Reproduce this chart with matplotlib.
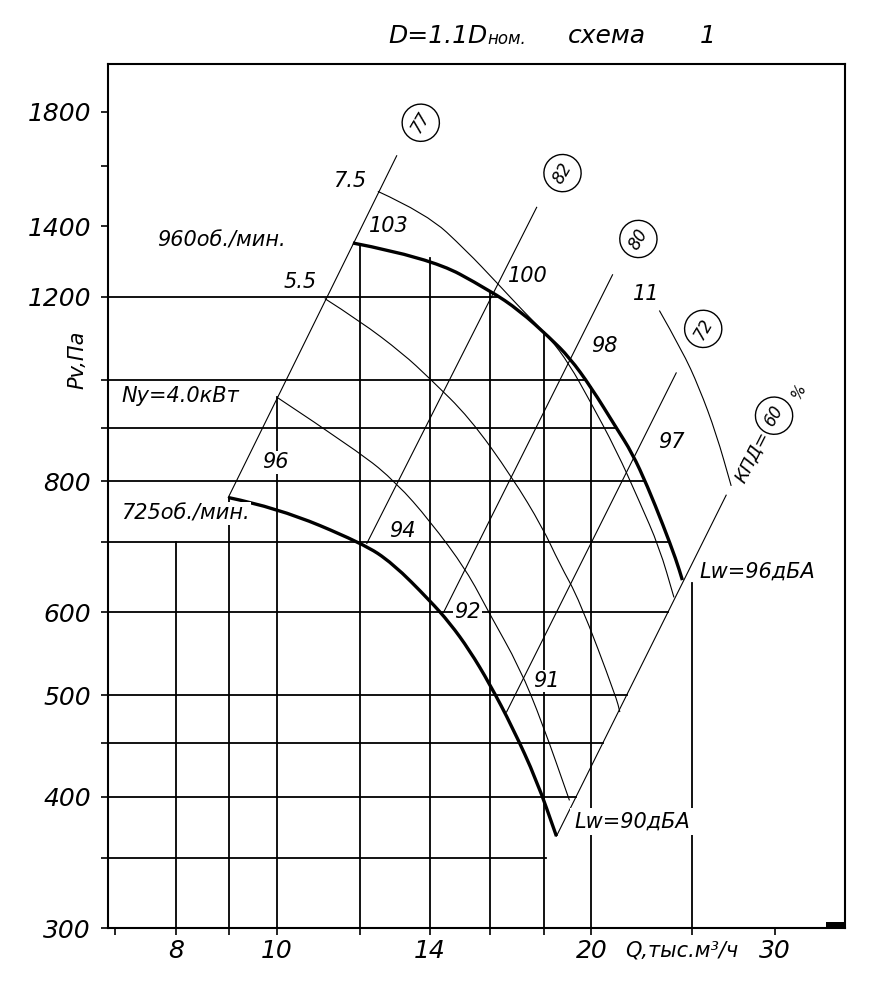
import numpy as np
import matplotlib.pyplot as plt
from matplotlib.patches import Rectangle, PathPatch
from matplotlib.path import Path

plt.rcParams['font.family'] = ['DejaVu Sans']
plt.rcParams['font.style'] = 'italic'

# fan characteristics, Q in thous. m3/h, Pv in Pa
q_960 = [11.82, 14.0, 16.0, 17.07, 18.24, 19.06, 20.0, 21.13, 21.89, 22.63, 23.44, 24.12, 24.45]
p_960 = [1350, 1307, 1216, 1164, 1097, 1050, 983, 900, 851, 792, 726, 673, 644]
q_725 = [8.98, 10.0, 12.08, 12.91, 14.0, 14.64, 15.29, 15.98, 16.81, 17.73, 18.52]
p_725 = [772, 755, 698, 668, 616, 586, 552, 513, 466, 415, 367]

# shaft power lines (kW)
q_n40 = [10.0, 12.0, 13.02, 14.0, 15.19, 15.98, 17.07, 17.96, 19.06]
p_n40 = [962, 853, 797, 734, 658, 598, 532, 470, 397]
q_n55 = [11.11, 12.0, 13.2, 14.0, 15.29, 16.8, 17.96, 18.64, 19.49, 21.13, 21.3]
p_n55 = [1195, 1138, 1059, 1003, 920, 807, 723, 668, 616, 498, 482]
q_n75 = [12.49, 13.91, 15.19, 16.23, 17.19, 18.24, 19.06, 19.91, 21.13, 22.23, 23.24, 24.0]
p_n75 = [1512, 1440, 1327, 1238, 1164, 1097, 1034, 957, 857, 766, 692, 620]
q_n11 = [23.24, 24.44, 25.37, 26.35, 27.23]
p_n11 = [1164, 1066, 983, 888, 792]

# efficiency lines (%), from the 725 rpm curve upwards
eff_labels = ['77', '82', '80', '72', '60']
eff_q0 = [8.98, 12.19, 14.44, 16.59, 18.52]
eff_p0 = [772, 698, 600, 482, 367]
eff_q1 = [13.02, 17.73, 20.96, 24.12, 26.93]
eff_p1 = [1635, 1460, 1259, 1015, 776]

# grid
grid_q = [8, 9, 10, 12, 14, 16, 18, 20, 25]
grid_q_top = {8: 700, 9: 772, 10: 962, 25: 640}
grid_p = [350, 400, 450, 500, 600, 700, 800, 900, 1000, 1200]

x_ticks = [7, 8, 9, 10, 12, 14, 16, 18, 20, 25, 30]
x_labels = ['', '8', '', '10', '', '14', '', '', '20', '', '30']
y_ticks = [300, 350, 400, 450, 500, 600, 700, 800, 900, 1000, 1200, 1400, 1600, 1800]
y_labels = ['300', '', '400', '', '500', '600', '', '800', '', '', '1200', '1400', '', '1800']


def logi(x, xs, ys):
    return float(np.exp(np.interp(np.log(x), np.log(xs), np.log(ys))))


def smooth_line(ax, qs, ps, lw, z):
    # quadratic bezier pieces through the read points, drawn by matplotlib's path renderer
    verts = [(qs[0], ps[0])]
    codes = [Path.MOVETO]
    for i in range(1, len(qs) - 1):
        mid = (np.sqrt(qs[i] * qs[i + 1]), np.sqrt(ps[i] * ps[i + 1]))
        verts += [(qs[i], ps[i]), mid]
        codes += [Path.CURVE3, Path.CURVE3]
    verts.append((qs[-1], ps[-1]))
    codes.append(Path.LINETO)
    ax.add_patch(PathPatch(Path(verts, codes), fill=False, ec='k', lw=lw, zorder=z,
                           capstyle='butt'))


fig = plt.figure(figsize=(8.73, 9.98), dpi=100)
ax = fig.add_axes([107.5 / 873, 70 / 998, 737.5 / 873, 864 / 998])
ax.set_xscale('log')
ax.set_yscale('log')
ax.set_xlim(6.88, 35)
ax.set_ylim(300, 2000)
ax.set_xticks(x_ticks)
ax.set_xticklabels(x_labels)
ax.set_yticks(y_ticks)
ax.set_yticklabels(y_labels)
ax.minorticks_off()
ax.tick_params(direction='out', length=5, width=1.2, labelsize=18, color='k')
ax.tick_params(axis='y', pad=7)
ax.tick_params(axis='x', pad=3)
for sp in ax.spines.values():
    sp.set_linewidth(1.5)

xmin = ax.get_xlim()[0]

# vertical grid lines up to the upper boundary
for q in grid_q:
    top = grid_q_top[q] if q in grid_q_top else logi(q, q_960, p_960)
    ax.plot([q, q], [300, top], color='k', lw=1.3, zorder=1)

# horizontal grid lines up to the 960 curve or the 60% line
s60 = np.log(eff_p1[-1] / eff_p0[-1]) / np.log(eff_q1[-1] / eff_q0[-1])
for p in grid_p:
    if p >= p_960[-1]:
        qe = logi(p, p_960[::-1], q_960[::-1])
    else:
        qe = eff_q0[-1] * (p / eff_p0[-1]) ** (1 / s60)
    ax.plot([xmin, qe], [p, p], color='k', lw=1.3, zorder=1)

# efficiency lines
for i in range(len(eff_labels)):
    ax.plot([eff_q0[i], eff_q1[i]], [eff_p0[i], eff_p1[i]], color='k', lw=0.8, zorder=2)

# power lines
for qs, ps in [(q_n40, p_n40), (q_n55, p_n55), (q_n75, p_n75), (q_n11, p_n11)]:
    smooth_line(ax, qs, ps, 0.8, 2)

# fan curves
smooth_line(ax, q_960, p_960, 2.4, 3)
smooth_line(ax, q_725, p_725, 2.4, 3)

wbox = dict(fc='white', ec='none', pad=1.0)


def lab(q, p, s, fs=15, ha='center', box=True, **kw):
    ax.text(q, p, s, fontsize=fs, ha=ha, va='center', zorder=5,
            bbox=wbox if box else None, **kw)


lab(8.84, 1358, '960об./мин.', fs=15, box=False)
lab(8.17, 746, '725об./мин.', fs=15)
lab(8.08, 965, 'Ny=4.0кВт', fs=15, box=False)
lab(10.52, 1238, '5.5', box=False)
lab(11.74, 1547, '7.5', box=False)
lab(22.58, 1208, '11', box=False)
lab(12.80, 1401, '103', box=False)
lab(17.38, 1257, '100', box=False)
lab(20.59, 1077, '98', box=False)
lab(23.86, 873, '97', box=False)
lab(9.96, 834, '96')
lab(13.17, 717, '94', box=False)
lab(15.23, 600, '92')
lab(18.12, 516, '91')
ax.text(25.37, 656, 'Lw=96дБА', fontsize=15, ha='left', va='center', zorder=5,
        bbox=dict(fc='white', ec='none', pad=2))
ax.text(19.25, 379, 'Lw=90дБА', fontsize=15, ha='left', va='center', zorder=5,
        bbox=dict(fc='white', ec='none', pad=2.5))

# efficiency labels in circles
circ_q = [13.73, 18.77, 22.19, 25.6, 29.93]
circ_p = [1758, 1574, 1362, 1118, 924]
for i, s in enumerate(eff_labels):
    ax.text(circ_q[i], circ_p[i], s, fontsize=12, rotation=60, ha='center', va='center',
            zorder=5, bbox=dict(boxstyle='circle,pad=0.48', fc='white', ec='k', lw=1.0))
ax.text(28.5, 845, 'КПД=', fontsize=13, rotation=63, ha='center', va='center', zorder=5)
ax.text(31.6, 975, '%', fontsize=11, rotation=63, ha='center', va='center', zorder=5)

# axis captions
ax.text(24.4, -0.026, 'Q,тыс.м³/ч', fontsize=15, ha='center', va='center',
        transform=ax.get_xaxis_transform())
fig.text(77 / 873, 1 - 360 / 998, 'Pv,Па', fontsize=15, rotation=90, ha='center', va='center')

ax.add_patch(Rectangle((0.974, 0), 0.026, 0.007, transform=ax.transAxes,
                       fc='k', ec='none', clip_on=False, zorder=6))

# title
t1 = fig.text(388 / 873, 1 - 48 / 998, 'D=1.1D', fontsize=18, ha='left', va='bottom')
ax.annotate('ном.', xy=(1, 0), xycoords=t1, fontsize=12, ha='left', va='bottom',
            annotation_clip=False)
fig.text(568 / 873, 1 - 48 / 998, 'схема', fontsize=18, ha='left', va='bottom')
fig.text(700 / 873, 1 - 48 / 998, '1', fontsize=18, ha='left', va='bottom')

fig.savefig('out.png', dpi=100)
